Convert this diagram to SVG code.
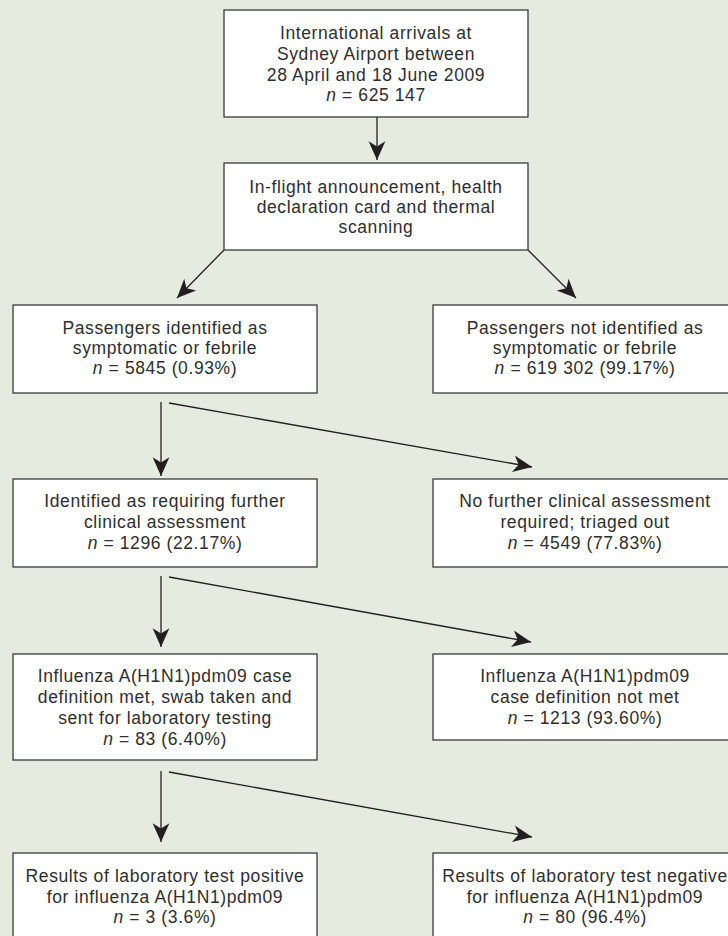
<svg xmlns="http://www.w3.org/2000/svg" width="728" height="936" viewBox="0 0 728 936">
<style>
.box{fill:#ffffff;stroke:#3a3a3a;stroke-width:1.3}
.t{font-family:"Liberation Sans",Arial,sans-serif;font-size:17.5px;letter-spacing:0.6px;fill:#2e2e2e;text-anchor:middle}
.i{font-style:italic}
.c{stroke:#231f20;stroke-width:1.3;fill:none;marker-end:url(#ah)}
</style>
<defs>
<marker id="ah" markerUnits="userSpaceOnUse" markerWidth="22" markerHeight="22" viewBox="-20 -9 21 18" refX="0" refY="0" orient="auto">
<path d="M0,0 L-18,-8 L-13,0 L-18,8 Z" fill="#231f20"/>
</marker>
</defs>
<rect x="0" y="0" width="728" height="936" fill="#e6ebe0"/>
<g id="connectors">
<line class="c" x1="377" y1="117" x2="377" y2="160"/>
<line class="c" x1="224" y1="250" x2="177" y2="298"/>
<line class="c" x1="528" y1="250" x2="576" y2="298"/>
<line class="c" x1="161" y1="402" x2="161" y2="476"/>
<line class="c" x1="169" y1="403" x2="532" y2="467"/>
<line class="c" x1="161" y1="576" x2="161" y2="647"/>
<line class="c" x1="169" y1="577" x2="531" y2="642"/>
<line class="c" x1="161" y1="771" x2="161" y2="842"/>
<line class="c" x1="169" y1="772" x2="532" y2="837"/>
</g>
<g id="arrivals">
<rect class="box" x="224" y="10" width="304" height="107"/>
<text class="t"><tspan x="376" y="39">International arrivals at</tspan><tspan x="376" y="60">Sydney Airport between</tspan><tspan x="376" y="81">28 April and 18 June 2009</tspan><tspan x="376" y="101"><tspan class="i">n</tspan> = 625 147</tspan></text>
</g>
<g id="screening">
<rect class="box" x="224" y="163" width="304" height="87"/>
<text class="t"><tspan x="376" y="193">In-flight announcement, health</tspan><tspan x="376" y="213">declaration card and thermal</tspan><tspan x="376" y="233">scanning</tspan></text>
</g>
<g id="symptomatic">
<rect class="box" x="13" y="305" width="304" height="88"/>
<text class="t"><tspan x="165" y="334">Passengers identified as</tspan><tspan x="165" y="354">symptomatic or febrile</tspan><tspan x="165" y="374"><tspan class="i">n</tspan> = 5845 (0.93%)</tspan></text>
</g>
<g id="not-symptomatic">
<rect class="box" x="433" y="305" width="304" height="88"/>
<text class="t"><tspan x="585" y="334">Passengers not identified as</tspan><tspan x="585" y="354">symptomatic or febrile</tspan><tspan x="585" y="374"><tspan class="i">n</tspan> = 619 302 (99.17%)</tspan></text>
</g>
<g id="further-assessment">
<rect class="box" x="13" y="479" width="304" height="88"/>
<text class="t"><tspan x="165" y="507">Identified as requiring further</tspan><tspan x="165" y="528">clinical assessment</tspan><tspan x="165" y="549"><tspan class="i">n</tspan> = 1296 (22.17%)</tspan></text>
</g>
<g id="triaged-out">
<rect class="box" x="433" y="479" width="304" height="88"/>
<text class="t"><tspan x="585" y="507">No further clinical assessment</tspan><tspan x="585" y="528">required; triaged out</tspan><tspan x="585" y="549"><tspan class="i">n</tspan> = 4549 (77.83%)</tspan></text>
</g>
<g id="case-met">
<rect class="box" x="13" y="654" width="304" height="106"/>
<text class="t"><tspan x="165" y="682">Influenza A(H1N1)pdm09 case</tspan><tspan x="165" y="703">definition met, swab taken and</tspan><tspan x="165" y="724">sent for laboratory testing</tspan><tspan x="165" y="745"><tspan class="i">n</tspan> = 83 (6.40%)</tspan></text>
</g>
<g id="case-not-met">
<rect class="box" x="433" y="654" width="304" height="86"/>
<text class="t"><tspan x="585" y="682">Influenza A(H1N1)pdm09</tspan><tspan x="585" y="703">case definition not met</tspan><tspan x="585" y="724"><tspan class="i">n</tspan> = 1213 (93.60%)</tspan></text>
</g>
<g id="positive">
<rect class="box" x="13" y="853" width="304" height="100"/>
<text class="t"><tspan x="165" y="882">Results of laboratory test positive</tspan><tspan x="165" y="903">for influenza A(H1N1)pdm09</tspan><tspan x="165" y="923"><tspan class="i">n</tspan> = 3 (3.6%)</tspan></text>
</g>
<g id="negative">
<rect class="box" x="433" y="853" width="304" height="100"/>
<text class="t"><tspan x="585" y="882">Results of laboratory test negative</tspan><tspan x="585" y="903">for influenza A(H1N1)pdm09</tspan><tspan x="585" y="923"><tspan class="i">n</tspan> = 80 (96.4%)</tspan></text>
</g>
</svg>
